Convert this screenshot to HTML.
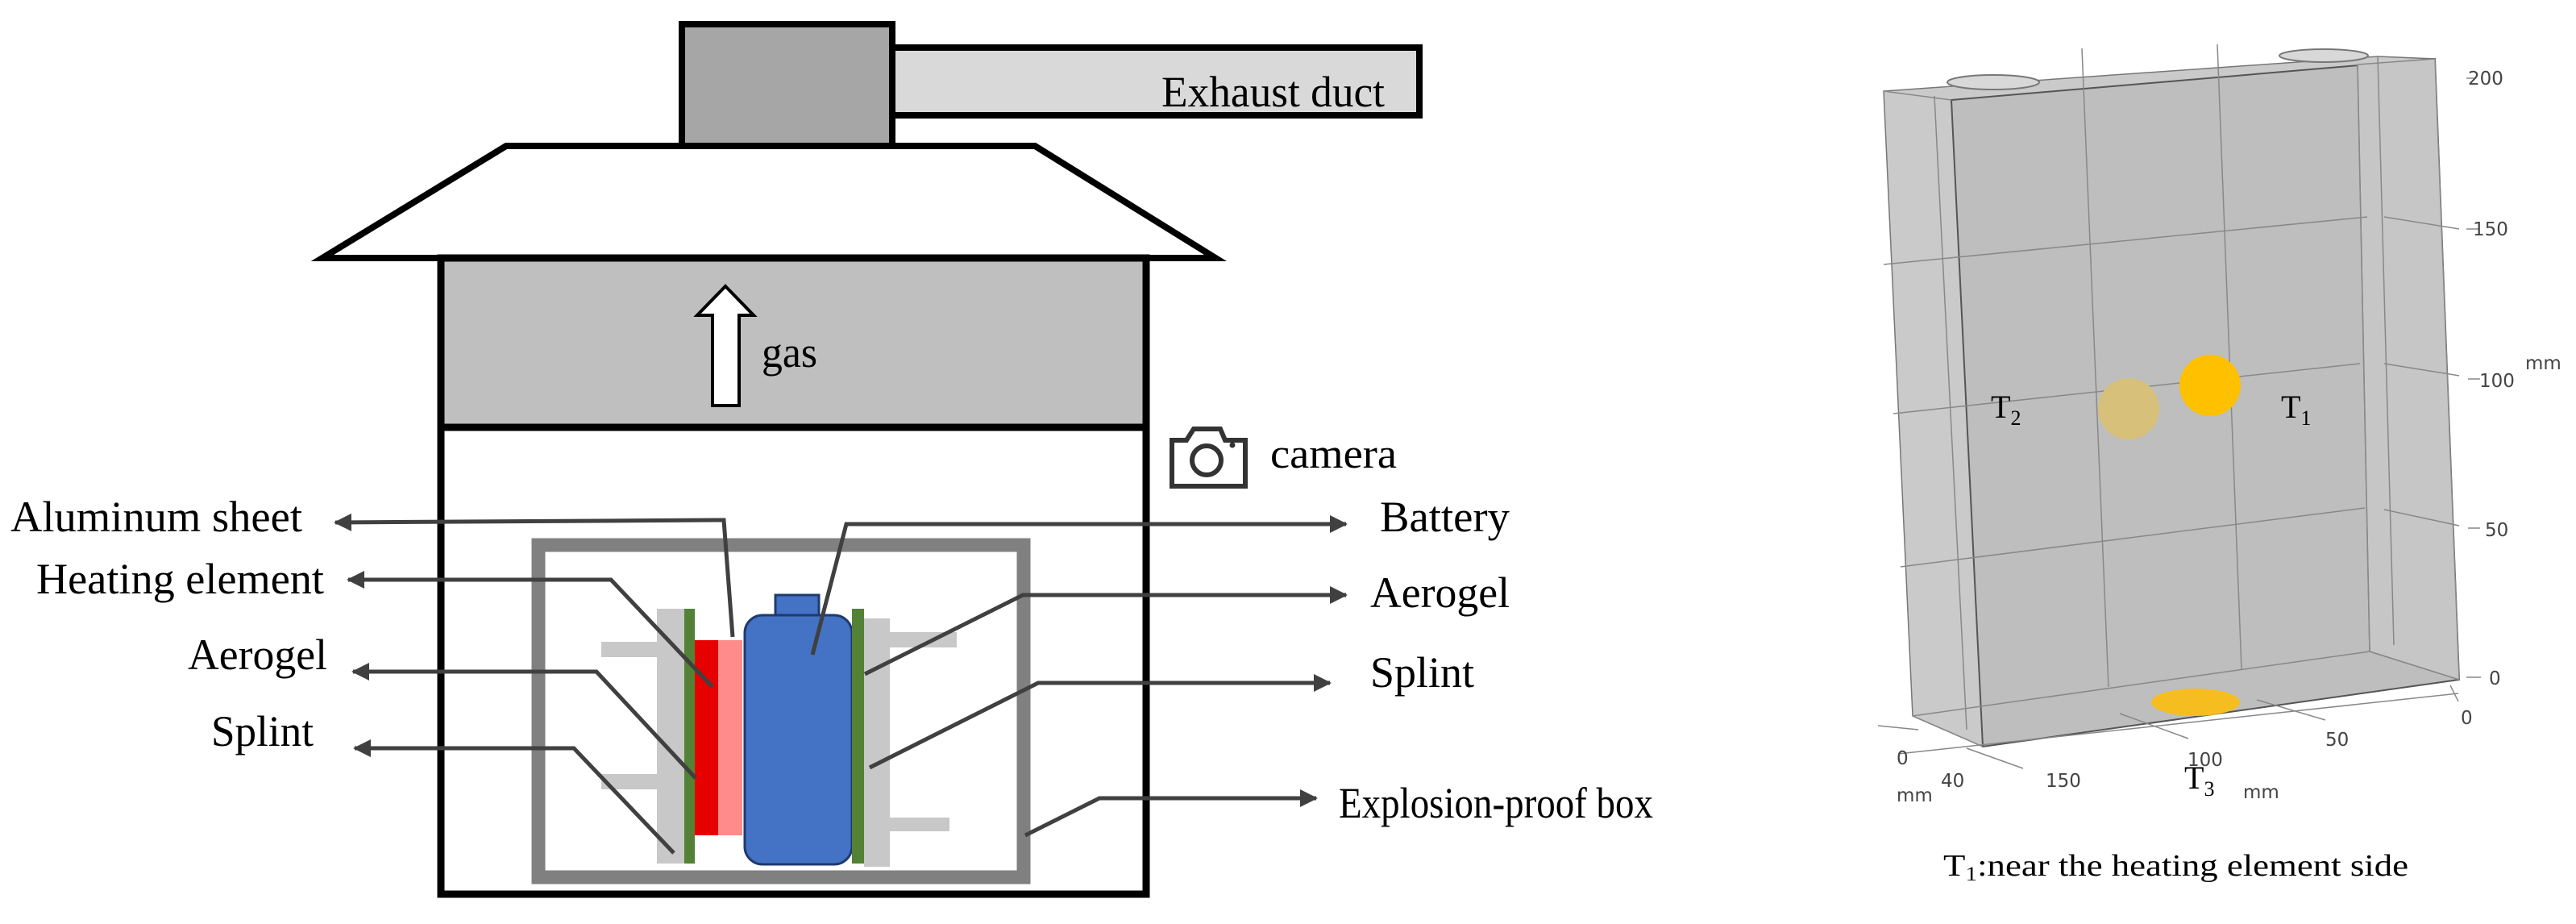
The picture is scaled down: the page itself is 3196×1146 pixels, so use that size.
<!DOCTYPE html>
<html><head><meta charset="utf-8"><style>
html,body{margin:0;padding:0;background:#fff;}
svg{display:block;}
text{font-family:"Liberation Serif",serif;}
.tk{font-family:"DejaVu Sans","Liberation Sans",sans-serif;font-size:23px;fill:#444;}
</style></head><body>
<svg width="3196" height="1146" viewBox="0 0 3196 1146" xmlns="http://www.w3.org/2000/svg">
<defs>
<marker id="ah" markerWidth="24" markerHeight="24" refX="20" refY="11" orient="auto" markerUnits="userSpaceOnUse">
<path d="M0,0 L22,11 L0,22 Z" fill="#404040"/></marker>
</defs>
<rect x="1107" y="59" width="654" height="84" fill="#d9d9d9" stroke="#000" stroke-width="8"/>
<rect x="846" y="30" width="261" height="151" fill="#a6a6a6" stroke="#000" stroke-width="8"/>
<text x="1441" y="132" font-size="54" textLength="277" lengthAdjust="spacingAndGlyphs">Exhaust duct</text>
<polygon points="628,181 1284,181 1508,320 400,320" fill="#fff" stroke="#000" stroke-width="8"/>
<rect x="547" y="320" width="875" height="210" fill="#bfbfbf"/>
<rect x="547" y="320" width="875" height="789" fill="none" stroke="#000" stroke-width="9"/>
<line x1="547" y1="530" x2="1422" y2="530" stroke="#000" stroke-width="9"/>
<polygon points="900,355 935,391 917,391 917,503 884,503 884,391 865,391" fill="#fff" stroke="#000" stroke-width="4"/>
<text x="945" y="455" font-size="54" textLength="69" lengthAdjust="spacingAndGlyphs">gas</text>
<g fill="none" stroke="#333" stroke-width="6">
<path d="M1454,546 H1472 L1481,532 H1514 L1520,546 H1545 V603 H1454 Z"/>
<circle cx="1497" cy="571" r="18"/>
</g>
<circle cx="1529" cy="552" r="3.5" fill="#333"/>
<text x="1576" y="580" font-size="52" textLength="157" lengthAdjust="spacingAndGlyphs">camera</text>
<rect x="668" y="676" width="602" height="412" fill="none" stroke="#808080" stroke-width="17"/>
<rect x="815" y="755" width="34" height="316" fill="#c8c8c8"/>
<rect x="746" y="796" width="69" height="19" fill="#c8c8c8"/>
<rect x="746" y="960" width="69" height="19" fill="#c8c8c8"/>
<rect x="849" y="755" width="13" height="316" fill="#538135"/>
<rect x="862" y="794" width="29" height="242" fill="#e60000"/>
<rect x="891" y="794" width="30" height="242" fill="#ff8b8b"/>
<rect x="962" y="738" width="54" height="26" fill="#4472c4" stroke="#1f3a6e" stroke-width="3"/>
<rect x="924" y="763" width="133" height="309" rx="22" fill="#4472c4" stroke="#1f3a6e" stroke-width="3"/>
<rect x="1057" y="755" width="15" height="316" fill="#538135"/>
<rect x="1072" y="767" width="32" height="308" fill="#c8c8c8"/>
<rect x="1104" y="784" width="83" height="19" fill="#c8c8c8"/>
<rect x="1098" y="1014" width="80" height="17" fill="#c8c8c8"/>
<g fill="none" stroke="#404040" stroke-width="5">
<polyline points="909,790 898,645 416,648" marker-end="url(#ah)"/>
<polyline points="884,852 758,719 432,719" marker-end="url(#ah)"/>
<polyline points="863,965 740,833 438,833" marker-end="url(#ah)"/>
<polyline points="836,1058 712,928 440,928" marker-end="url(#ah)"/>
<polyline points="1008,812 1050,650 1670,650" marker-end="url(#ah)"/>
<polyline points="1073,836 1269,738 1670,738" marker-end="url(#ah)"/>
<polyline points="1079,952 1288,847 1650,847" marker-end="url(#ah)"/>
<polyline points="1272,1036 1364,990 1633,990" marker-end="url(#ah)"/>
</g>
<g font-size="54">
<text x="13" y="659" textLength="362" lengthAdjust="spacingAndGlyphs">Aluminum sheet</text>
<text x="45" y="736" textLength="357" lengthAdjust="spacingAndGlyphs">Heating element</text>
<text x="233" y="830" textLength="173" lengthAdjust="spacingAndGlyphs">Aerogel</text>
<text x="262" y="925" textLength="127" lengthAdjust="spacingAndGlyphs">Splint</text>
<text x="1712" y="659" textLength="161" lengthAdjust="spacingAndGlyphs">Battery</text>
<text x="1700" y="753" textLength="173" lengthAdjust="spacingAndGlyphs">Aerogel</text>
<text x="1700" y="852" textLength="129" lengthAdjust="spacingAndGlyphs">Splint</text>
<text x="1661" y="1014" textLength="390" lengthAdjust="spacingAndGlyphs">Explosion-proof box</text>
</g>
<polygon points="2337,113 2950,70 3021,73 3051,843 2460,926 2373,888" fill="#cacaca" stroke="#777" stroke-width="1.5"/>
<polygon points="2421,124 3021,73 3051,843 2460,926" fill="#bebebe" stroke="#555" stroke-width="2"/>
<polygon points="2925,80 3021,73 3051,843 2940,808" fill="#c6c6c6" stroke="#888" stroke-width="1.5"/>
<g stroke="#888" stroke-width="1.5" fill="none">
<line x1="2337" y1="113" x2="2421" y2="124"/>
<line x1="2373" y1="888" x2="2940" y2="808"/>
<line x1="2373" y1="888" x2="2460" y2="926"/>
<line x1="2940" y1="808" x2="3051" y2="843"/>
<line x1="2925" y1="80" x2="2940" y2="808"/>
<line x1="2950" y1="70" x2="2970" y2="800"/>
<line x1="2583" y1="60" x2="2616" y2="852"/>
<line x1="2751" y1="55" x2="2781" y2="830"/>
<line x1="2337" y1="328" x2="2937" y2="269"/>
<line x1="2349" y1="513" x2="2928" y2="451"/>
<line x1="2358" y1="703" x2="2934" y2="630"/>
<line x1="2958" y1="269" x2="3051" y2="284"/>
<line x1="2958" y1="451" x2="3051" y2="466"/>
<line x1="2958" y1="632" x2="3051" y2="652"/>
<line x1="2400" y1="119" x2="2440" y2="905"/>
<line x1="3060" y1="97" x2="3072" y2="97"/>
<line x1="3060" y1="284" x2="3075" y2="284"/>
<line x1="3062" y1="470" x2="3077" y2="470"/>
<line x1="3062" y1="655" x2="3077" y2="655"/>
<line x1="3060" y1="840" x2="3078" y2="840"/>
<line x1="2330" y1="900" x2="2380" y2="905"/>
<line x1="2355" y1="935" x2="3050" y2="860"/>
<line x1="2630" y1="885" x2="2715" y2="916"/>
<line x1="2440" y1="928" x2="2510" y2="953"/>
<line x1="2800" y1="868" x2="2885" y2="893"/>
<line x1="3040" y1="850" x2="3050" y2="870"/>
</g>
<ellipse cx="2473" cy="102" rx="57" ry="9" fill="#d8d8d8" stroke="#777" stroke-width="2"/>
<ellipse cx="2883" cy="69" rx="55" ry="8" fill="#d8d8d8" stroke="#777" stroke-width="2"/>
<ellipse cx="2641" cy="507" rx="38" ry="38" fill="#d6c07a"/>
<ellipse cx="2742" cy="478" rx="38" ry="38" fill="#ffc000"/>
<ellipse cx="2724" cy="871" rx="55" ry="17" fill="#f5bd1f"/>
<g font-size="40">
<text x="2470" y="518">T<tspan font-size="26" dy="9">2</tspan></text>
<text x="2830" y="518">T<tspan font-size="26" dy="9">1</tspan></text>
<text x="2710" y="978">T<tspan font-size="26" dy="9">3</tspan></text>
</g>
<text class="tk" x="3062" y="105">200</text>
<text class="tk" x="3068" y="292">150</text>
<text class="tk" x="3076" y="480">100</text>
<text class="tk" x="3083" y="665">50</text>
<text class="tk" x="3088" y="849">0</text>
<text class="tk" x="3133" y="458" font-size="15">mm</text>
<text class="tk" x="3053" y="898">0</text>
<text class="tk" x="2885" y="925">50</text>
<text class="tk" x="2714" y="950">100</text>
<text class="tk" x="2538" y="976">150</text>
<text class="tk" x="2408" y="976">40</text>
<text class="tk" x="2353" y="948">0</text>
<text class="tk" x="2353" y="994" font-size="15">mm</text>
<text class="tk" x="2783" y="990" font-size="15">mm</text>
<text x="2411" y="1086" font-size="38" textLength="577" lengthAdjust="spacingAndGlyphs">T<tspan font-size="25" dy="6">1</tspan><tspan dy="-6">:near the heating element side</tspan></text>
</svg>
</body></html>
